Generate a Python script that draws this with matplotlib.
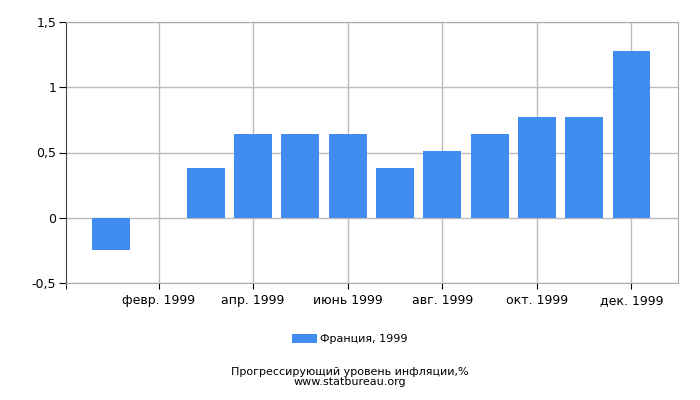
import matplotlib
matplotlib.use('Agg')
import matplotlib.pyplot as plt
import numpy as np

months = np.arange(1, 13)
values = [-0.25, 0.0, 0.38, 0.64, 0.64, 0.64, 0.38, 0.51, 0.64, 0.77, 0.77, 1.28]
tick_pos = [2, 4, 6, 8, 10, 12]
tick_labels = ["февр. 1999", "апр. 1999", "июнь 1999", "авг. 1999", "окт. 1999", "дек. 1999"]
y_ticks = [-0.5, 0, 0.5, 1, 1.5]
y_labels = ["-0,5", "0", "0,5", "1", "1,5"]

plt.rcParams['font.family'] = ['DejaVu Sans']
fig = plt.figure(figsize=(7, 4), dpi=100)
ax = fig.add_axes([0.094, 0.2925, 0.875, 0.6525])

ax.bar(months, values, width=0.8, color='#418CF0', label='Франция, 1999', zorder=3)

x_left = 0.04
ax.set_xlim(x_left, 12.99)
ax.set_ylim(-0.5, 1.5)
ax.set_xticks(tick_pos)
ax.set_xticklabels(tick_labels, fontsize=9)
ax.set_xticks([x_left], minor=True)
ax.set_yticks(y_ticks)
ax.set_yticklabels(y_labels, fontsize=9)
ax.grid(True, which='major', color='#bbbbbb', linewidth=1, zorder=0)
ax.tick_params(axis='x', which='both', length=4, color='black', pad=4)
ax.tick_params(axis='y', length=5, color='black', pad=2)
for s in ['top', 'right', 'bottom']:
    ax.spines[s].set_color('#aaaaaa')
ax.spines['left'].set_color('#444444')

fig.legend(loc='center', bbox_to_anchor=(0.5, 0.152), frameon=False, fontsize=8,
           handlelength=2.2, handleheight=0.8, handletextpad=0.3)
fig.text(0.5, 0.033, "Прогрессирующий уровень инфляции,%\nwww.statbureau.org",
         ha='center', va='bottom', fontsize=8, linespacing=0.95)

fig.savefig('out.png', dpi=100)
